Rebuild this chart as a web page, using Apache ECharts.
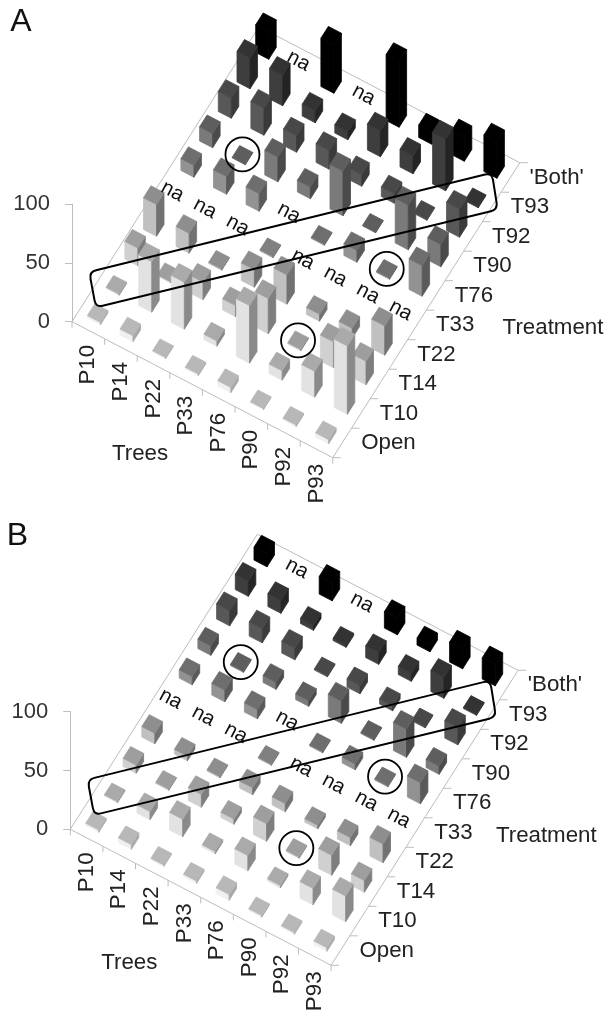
<!DOCTYPE html>
<html><head><meta charset="utf-8">
<style>html,body{margin:0;padding:0;background:#fff}#c{width:607px;height:1011px}</style>
<script src="https://cdn.jsdelivr.net/npm/echarts@6/dist/echarts.min.js"></script>
</head><body><div id="c"></div>
<script>
// Categories
const trees = ['P10','P14','P22','P33','P76','P90','P92','P93'];
const treatments = ['Open','T10','T14','T22','T33','T76','T90','T92','T93',"'Both'"];
// Panel A values per treatment (one per tree, null = na)
const A_Open = [2,5,1,1.5,4.5,1,1.5,3.5];
const A_T10  = [1,43,40,4.5,49,8,22,58];
const A_T14  = [15,1,15,9.5,30,1,22,20];
const A_T22  = [27,17,1,15,25,6,8.5,25];
const A_T33  = [null,null,null,1,null,null,null,null];
const A_T76  = [10,15,15,null,1,10,1,26];
const A_T90  = [12,0.5,21,10,38,0.5,38,19];
const A_T92  = [17,23,14,16,10,8,1,24];
const A_T93  = [26,26,10,7,22,15,44,1];
const A_Both = [23.5,null,41,null,56,10.5,20,31];
// Panel B values per treatment
const B_Open = [2,4,1,2,5,1.5,1.5,3];
const B_T10  = [1,7,15,2,13,2,14,22];
const B_T14  = [7,1,11,4.5,15,1,17,10];
const B_T22  = [9,4,1,6,7,3,7,16];
const B_T33  = [null,null,null,1,null,null,null,null];
const B_T76  = [7,10,8,null,1,5,1,18];
const B_T90  = [8,1,6,5,19,1,24,7];
const B_T92  = [13,12,10,1,7,4.5,1,15];
const B_T93  = [13,11,4.5,2,10,7,18,1];
const B_Both = [11,null,15,null,14,6,17,18];
const panelValues = [
  [A_Open,A_T10,A_T14,A_T22,A_T33,A_T76,A_T90,A_T92,A_T93,A_Both],
  [B_Open,B_T10,B_T14,B_T22,B_T33,B_T76,B_T90,B_T92,B_T93,B_Both]
];
// Highlighted cells [tree, treatment]
const circled = [[1,6],[5,2],[6,5]];
const boxFrom = [0,1], boxTo = [7,8];
const panelNames = ['A','B'];
const yTicks = {min:0,max:100,interval:50};

// Oblique projection, expressed in axis units
const TREE_DX = 32.6, TREE_DY = 17/1.177, TREAT_DX = 18.7, TREAT_DY = 29.5/1.177, XSPAN = 448;
const BAR = 0.4;
const faces = [ // top, left, right per treatment row
 ['#b8b8b8','#f0f0f0','#a8a8a8'],
 ['#aaaaaa','#e2e2e2','#8a8a8a'],
 ['#9e9e9e','#d0d0d0','#7e7e7e'],
 ['#8e8e8e','#c0c0c0','#727272'],
 ['#808080','#a8a8a8','#666666'],
 ['#6e6e6e','#929292','#5a5a5a'],
 ['#5e5e5e','#7a7a7a','#4a4a4a'],
 ['#484848','#585858','#3a3a3a'],
 ['#333333','#3e3e3e','#242424'],
 ['#000000','#000000','#000000']
];
const AXIS = '#bdbdbd', INK = '#222', FONT = '"Liberation Sans", Arial, sans-serif';
const proj = (api,i,j,h) => api.coord([i*TREE_DX + j*TREAT_DX, (h||0) - i*TREE_DY + j*TREAT_DY]);
const line = (a,b,c,w) => ({type:'line',shape:{x1:a[0],y1:a[1],x2:b[0],y2:b[1]},style:{stroke:c||AXIS,lineWidth:w||1}});
const text = (s,x,y,o) => Object.assign({type:'text',x,y,rotation:(o&&o.rot)||0,silent:true,
  style:{text:s,fill:(o&&o.fill)||INK,font:((o&&o.size)||22.3)+'px '+FONT,textAlign:(o&&o.align)||'center',textVerticalAlign:'middle',textBaseline:'middle'}});

function frameItem(p){
  return (params,api)=>{
    const nT=trees.length,nR=treatments.length,ch=[];
    const O=proj(api,0,0),F=proj(api,nT,0),BR=proj(api,nT,nR),BL=proj(api,0,nR);
    ch.push(line(O,F),line(F,BR),line(BR,BL),line(BL,O));
    for(let i=0;i<=nT;i++){const q=proj(api,i,0);ch.push(line(q,[q[0],q[1]+6]));}
    for(let j=0;j<=nR;j++){const q=proj(api,nT,j);ch.push(line(q,[q[0]+8,q[1]]));}
    trees.forEach((t,i)=>{const q=proj(api,i+.5,0);ch.push(text(t,q[0],q[1]+34.5,{rot:Math.PI/2}));});
    treatments.forEach((t,j)=>{const q=proj(api,nT,j+.5);ch.push(text(t,q[0]+19,q[1],{align:'left'}));});
    const mid=proj(api,0,0);
    ch.push(text('Trees',mid[0]+(p?59:68),mid[1]+(p?134:132),{}));
    ch.push(text('Treatment',mid[0]+(p?476:481),mid[1]+6.5,{}));
    ch.push(text(panelNames[p],mid[0]+(p?-53:-51),mid[1]+(p?-293:-300),{size:32,fill:'#111'}));
    return {type:'group',children:ch};
  };
}
function barItem(params,api){
  const i=api.value(0),j=api.value(1),h=api.value(2),f=BAR/2,cx=i+.5,cy=j+.5;
  const c=(a,b,z)=>proj(api,cx+a*f,cy+b*f,z);
  const L0=c(-1,-1,0),B0=c(1,-1,0),R0=c(1,1,0),L1=c(-1,-1,h),B1=c(1,-1,h),R1=c(1,1,h),T1=c(-1,1,h);
  const col=faces[j];
  const poly=(pts,fill)=>({type:'polygon',shape:{points:pts},style:{fill,stroke:fill,lineWidth:.8}});
  return {type:'group',children:[poly([L0,B0,B1,L1],col[1]),poly([B0,R0,R1,B1],col[2]),poly([L1,B1,R1,T1],col[0])]};
}
function naItem(params,api){
  const q=proj(api,api.value(0)+.5,api.value(1)+.5);
  return text('na',q[0],q[1]-6,{size:20.5,fill:'#111',rot:-28*Math.PI/180});
}
function roundPath(pts,r){
  let d='';const n=pts.length;
  pts.forEach((p,k)=>{
    const a=pts[(k+n-1)%n],b=pts[(k+1)%n];
    const la=Math.hypot(a[0]-p[0],a[1]-p[1]),lb=Math.hypot(b[0]-p[0],b[1]-p[1]);
    const s=[p[0]+(a[0]-p[0])*r/la,p[1]+(a[1]-p[1])*r/la],e=[p[0]+(b[0]-p[0])*r/lb,p[1]+(b[1]-p[1])*r/lb];
    d+=(k?'L':'M')+s[0]+' '+s[1]+'Q'+p[0]+' '+p[1]+' '+e[0]+' '+e[1];
  });
  return d+'Z';
}
function markItem(params,api){
  const ch=[];
  circled.forEach(([i,j])=>{const q=proj(api,i+.5,j+.5);
    ch.push({type:'circle',shape:{cx:q[0],cy:q[1]-1,r:17},style:{fill:'none',stroke:'#000',lineWidth:1.8}});});
  const a=proj(api,boxFrom[0]+.5,boxFrom[1]+.5),b=proj(api,boxTo[0]+.5,boxTo[1]+.5);
  const L=Math.hypot(b[0]-a[0],b[1]-a[1]),d=[(b[0]-a[0])/L,(b[1]-a[1])/L],n=[-d[1],d[0]];
  const pt=(o,u,v)=>[o[0]+d[0]*u+n[0]*v,o[1]+d[1]*u+n[1]*v];
  const pts=[pt(a,-23,-20),pt(b,22,-21),pt(b,19,16),pt(a,-25,16)];
  ch.push({type:'path',shape:{pathData:roundPath(pts,7)},style:{fill:'none',stroke:'#000',lineWidth:2}});
  return {type:'group',children:ch};
}

const grids=[{left:72,top:204,width:XSPAN,height:117.7},{left:70.3,top:711.6,width:XSPAN,height:117.7}];
const series=[];
panelValues.forEach((rows,p)=>{
  const bars=[],nas=[];
  for(let j=treatments.length-1;j>=0;j--) for(let i=0;i<trees.length;i++){
    const v=rows[j][i]; if(v==null) nas.push([i,j,0]); else bars.push([i,j,v]);
  }
  const base={type:'custom',xAxisIndex:p,yAxisIndex:p,silent:true,animation:false,clip:false,encode:{x:0,y:1}};
  series.push(Object.assign({},base,{name:'frame'+p,z:1,data:[[0,0,0]],renderItem:frameItem(p)}));
  series.push(Object.assign({},base,{name:'bars'+p,z:2,data:bars,renderItem:barItem}));
  series.push(Object.assign({},base,{name:'na'+p,z:3,data:nas,renderItem:naItem}));
  series.push(Object.assign({},base,{name:'marks'+p,z:4,data:[[0,0,0]],renderItem:markItem}));
});
const chart=echarts.init(document.getElementById('c'),null,{renderer:'canvas'});
chart.setOption({
  animation:false,backgroundColor:'#fff',
  grid:grids,
  xAxis:grids.map((g,k)=>({gridIndex:k,type:'value',min:0,max:XSPAN,show:false})),
  yAxis:grids.map((g,k)=>({gridIndex:k,type:'value',min:yTicks.min,max:yTicks.max,interval:yTicks.interval,
    axisLine:{show:true,lineStyle:{color:AXIS}},axisTick:{show:true,length:7,lineStyle:{color:AXIS}},
    splitLine:{show:false},axisLabel:{margin:22,fontSize:22,color:'#333',fontFamily:'Liberation Sans'}})),
  series
});
</script></body></html>
